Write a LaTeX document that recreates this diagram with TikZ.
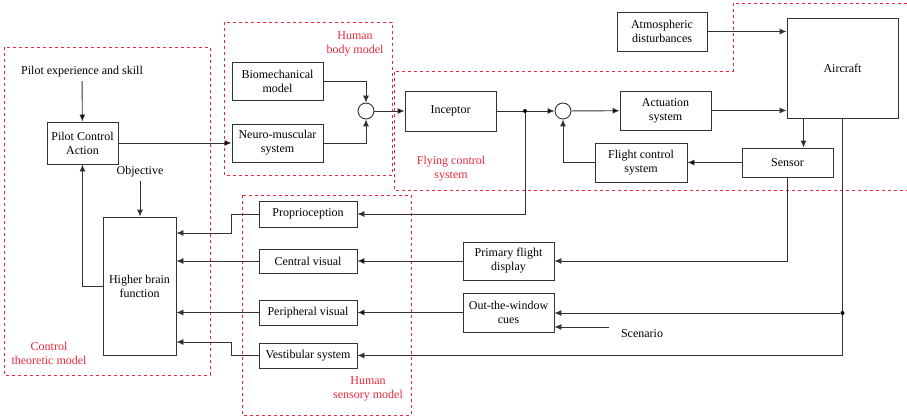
\documentclass[tikz,border=0pt]{standalone}
\usepackage{fontspec}
\setmainfont{Liberation Serif}
\usepackage{xcolor}
\usepackage{tikz}
\usetikzlibrary{calc, arrows.meta, positioning, shapes}

\definecolor{regred}{HTML}{E8283C}

\begin{document}
\begin{tikzpicture}[x=1pt, y=-1pt, >={Latex[length=7pt,width=6pt]}, font=\fontsize{12}{14}\selectfont, line width=0.9pt]
	\tikzstyle{blk} = [draw=black!80, rectangle, align=center, inner sep=1pt]
	\tikzstyle{sum} = [draw=black!80, circle, minimum size=16pt, inner sep=0pt]
	\tikzstyle{dot} = [fill=black, circle, minimum size=4pt, inner sep=0pt]
	\tikzstyle{region} = [draw=regred, dashed, line width=0.7pt]
	\tikzstyle{reglabel} = [text=regred, align=center]
	
	\useasboundingbox (0,0) rectangle (907,417);
	
	% dashed regions
	\draw[region] (4,47) rectangle (210,375);
	\draw[region] (224,22) rectangle (392,175);
	\draw[region] (242,195) rectangle (411,415);
	\draw[region] (907,3) -- (733,3) -- (733,71) -- (394,71) -- (394,190) -- (907,190);
	
	\node[reglabel]	at (49,353)		(lctrl)	{Control\\theoretic model};
	\node[reglabel]	at (355,44)		(lbody)	{Human\\body model};
	\node[reglabel]	at (451,169)	(lfly)	{Flying control\\system};
	\node[reglabel]	at (368,389)	(lsens)	{Human\\sensory model};
	
	% blocks
	\node			at (82,72)		(exp)	{Pilot experience and skill};
	\node[blk, minimum width=71pt, minimum height=42pt]	at (82.5,143)	(pca)	{Pilot Control\\Action};
	\node			at (140,172)	(obj)	{Objective};
	\node[blk, minimum width=73pt, minimum height=138pt]	at (139.5,286)	(hbf)	{Higher brain\\function};
	
	\node[blk, minimum width=91pt, minimum height=38pt]	at (277.5,81)	(bio)	{Biomechanical\\model};
	\node[blk, minimum width=91pt, minimum height=38pt]	at (277.5,143)	(neuro)	{Neuro-muscular\\system};
	\node[sum]		at (366,111)	(sum1)	{};
	\node[blk, minimum width=91pt, minimum height=40pt]	at (450.5,111)	(incep)	{Inceptor};
	\node[dot]		at (525,111)	(d1)	{};
	\node[sum]		at (563,111)	(sum2)	{};
	\node[blk, minimum width=91pt, minimum height=39pt]	at (665.5,110.5)	(actu)	{Actuation\\system};
	\node[blk, minimum width=90pt, minimum height=39pt]	at (662,31.5)	(atmos)	{Atmospheric\\disturbances};
	\node[blk, minimum width=111pt, minimum height=100pt]	at (842.5,68)	(air)	{Aircraft};
	\node[blk, minimum width=91pt, minimum height=29pt]	at (787.5,162.5)	(sensor)	{Sensor};
	\node[blk, minimum width=92pt, minimum height=39pt]	at (641,162.5)	(fcs)	{Flight control\\system};
	
	\node[blk, minimum width=98pt, minimum height=26pt]	at (308,214)	(propr)	{Proprioception};
	\node[blk, minimum width=98pt, minimum height=24pt]	at (308,261)	(cvis)	{Central visual};
	\node[blk, minimum width=98pt, minimum height=25pt]	at (308,312.5)	(pvis)	{Peripheral visual};
	\node[blk, minimum width=98pt, minimum height=25pt]	at (308,355.5)	(vest)	{Vestibular system};
	
	\node[blk, minimum width=91pt, minimum height=38pt]	at (508.5,261)	(pfd)	{Primary flight\\display};
	\node[blk, minimum width=91pt, minimum height=39pt]	at (508.5,312.5)	(otw)	{Out-the-window\\cues};
	\node			at (642,334)	(scen)	{Scenario};
	\coordinate		(scin)	at (609,327);
	\node[dot]		at (842.5,313)	(d2)	{};
	
	% connectors
	\path[draw=black!80][->]
	(exp) edge (pca)
	(pca) edge (neuro)
	(sum1) edge (incep)
	(d1) edge (sum2)
	(sum2) edge (actu)
	(sensor) edge (fcs)
	(pfd) edge (cvis)
	(otw) edge (pvis);
	
	\draw[black!80, ->] (bio.east) -| (sum1.north);
	\draw[black!80, ->] (neuro.east) -| (sum1.south);
	\draw[black!80] (incep) -- (d1);
	\draw[black!80, ->] (atmos.east) -- (atmos.east -| air.west);
	\draw[black!80, ->] (actu.east) -- (actu.east -| air.west);
	\draw[black!80, ->] ([xshift=16pt]sensor.north |- air.south) -- ([xshift=16pt]sensor.north);
	\draw[black!80, ->] (fcs.west) -| (sum2.south);
	\draw[black!80, ->] (d1) |- (propr.east);
	\draw[black!80] (air.south) -- (d2);
	\draw[black!80, ->] (d2) -- (d2 -| otw.east);
	\draw[black!80, ->] (d2) |- (vest.east);
	\draw[black!80, ->] (sensor.south) |- (pfd.east);
	\draw[black!80, ->] (scin) -- (scin -| otw.east);
	
	\draw[black!80, ->] (propr.west) -- ++(-27,0) |- ([yshift=53pt]hbf.east);
	\draw[black!80, ->] (cvis.west) -- (cvis.west -| hbf.east);
	\draw[black!80, ->] (pvis.west) -- (pvis.west -| hbf.east);
	\draw[black!80, ->] (vest.west) -- ++(-27,0) |- ([yshift=-56pt]hbf.east);
	\draw[black!80, ->] (hbf.west) -| (pca.south);
	\draw[black!80, ->] (obj) -- (obj |- hbf.north);
	
\end{tikzpicture}
\end{document}
